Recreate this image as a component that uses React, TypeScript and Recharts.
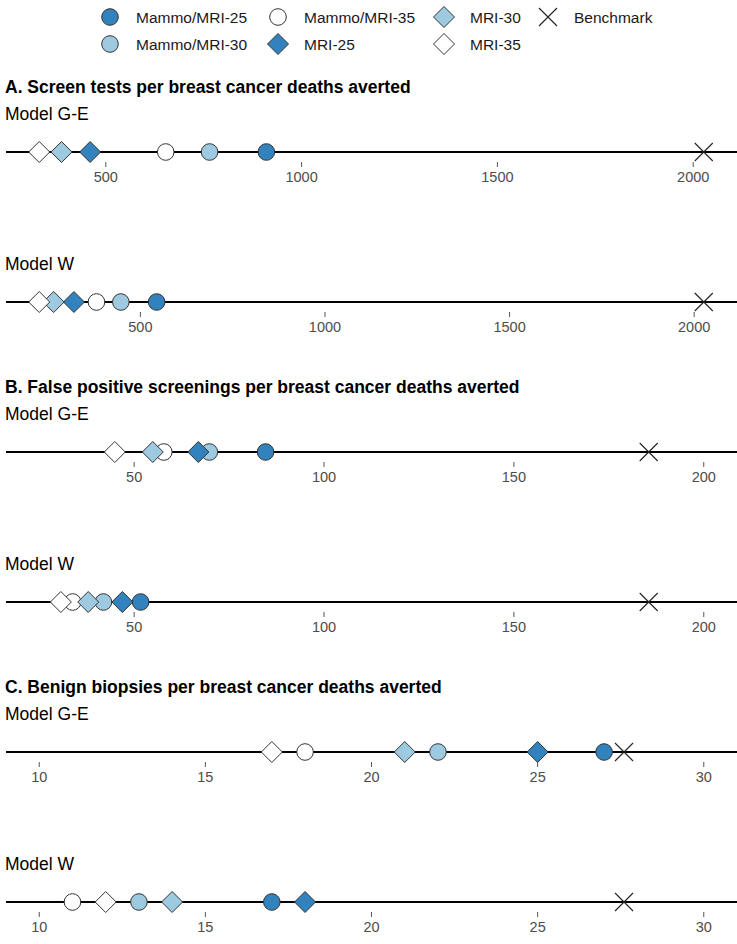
import { ReferenceLine, Scatter, ScatterChart, XAxis, YAxis } from "recharts"

const seriesNames = ["Mammo/MRI-25", "Mammo/MRI-30", "Mammo/MRI-35", "MRI-25", "MRI-30", "MRI-35", "Benchmark"]

// values in the order of seriesNames
const screenGE = [910, 765, 653, 460, 387, 330, 2027]
const screenW = [544, 447, 381, 320, 265, 226, 2026]
const falsePosGE = [84.6, 69.8, 57.8, 66.9, 54.9, 44.9, 185.5]
const falsePosW = [51.7, 41.9, 33.8, 46.9, 37.9, 30.7, 185.5]
const biopsyGE = [27, 22, 18, 25, 21, 17, 27.6]
const biopsyW = [17, 13, 11, 18, 14, 12, 27.6]

const screenTicks = [500, 1000, 1500, 2000]
const falsePosTicks = [50, 100, 150, 200]
const biopsyTicks = [10, 15, 20, 25, 30]

const falsePosLimits = [25, 200]
const biopsyLimits = [10, 30]

const FONT = "'Liberation Sans', Arial, sans-serif"
const DARK = "#3182bd"
const LIGHT = "#9ecae1"

const fills = [DARK, LIGHT, "#ffffff", DARK, LIGHT, "#ffffff", "none"]
const kinds = ["circle", "circle", "circle", "diamond", "diamond", "diamond", "cross"]

const expand = (lo: number, hi: number): [number, number] => {
  const pad = (hi - lo) * 0.05
  return [lo - pad, hi + pad]
}
const dataDomain = (vals: number[]) => expand(Math.min(...vals), Math.max(...vals))

function Marker({ cx, cy, idx }: { cx: number; cy: number; idx: number }) {
  const kind = kinds[idx]
  if (kind === "circle") {
    return <circle cx={cx} cy={cy} r={8.3} fill={fills[idx]} stroke="#333" strokeWidth={1} />
  }
  if (kind === "diamond") {
    const d = 10.5
    return (
      <path
        d={`M${cx},${cy - d}L${cx + d},${cy}L${cx},${cy + d}L${cx - d},${cy}Z`}
        fill={fills[idx]}
        stroke="#333"
        strokeWidth={1}
      />
    )
  }
  const s = 9
  return (
    <path
      d={`M${cx - s},${cy - s}L${cx + s},${cy + s}M${cx - s},${cy + s}L${cx + s},${cy - s}`}
      stroke="#222"
      strokeWidth={1.1}
      fill="none"
    />
  )
}

function Strip({ values, domain, ticks, lineY }: { values: number[]; domain: [number, number]; ticks: number[]; lineY: number }) {
  return (
    <div style={{ position: "absolute", left: 0, top: lineY - 22 }}>
      <ScatterChart width={737} height={62} margin={{ top: 12, right: 0, bottom: 0, left: 6 }}>
        <XAxis
          type="number"
          dataKey="x"
          domain={domain}
          allowDataOverflow
          ticks={ticks}
          interval={0}
          axisLine={false}
          tickLine={{ stroke: "#555", strokeWidth: 1 }}
          tickSize={5}
          tickMargin={5}
          tick={{ fill: "#4d4d4d", fontSize: 14.5, fontFamily: FONT }}
          height={30}
        />
        <YAxis type="number" dataKey="y" domain={[-1, 1]} hide width={0} />
        <ReferenceLine y={0} stroke="#000" strokeWidth={1.8} />
        {seriesNames.map((name, i) => (
          <Scatter
            key={name}
            name={name}
            data={[{ x: values[i], y: 0 }]}
            isAnimationActive={false}
            shape={(p: any) => <Marker cx={p.cx} cy={p.cy} idx={i} />}
          />
        ))}
      </ScatterChart>
    </div>
  )
}

const panels = [
  {
    title: "A. Screen tests per breast cancer deaths averted",
    rows: [
      { label: "Model G-E", values: screenGE, domain: dataDomain(screenGE), ticks: screenTicks },
      { label: "Model W", values: screenW, domain: dataDomain(screenW), ticks: screenTicks },
    ],
  },
  {
    title: "B. False positive screenings per breast cancer deaths averted",
    rows: [
      { label: "Model G-E", values: falsePosGE, domain: expand(falsePosLimits[0], falsePosLimits[1]), ticks: falsePosTicks },
      { label: "Model W", values: falsePosW, domain: expand(falsePosLimits[0], falsePosLimits[1]), ticks: falsePosTicks },
    ],
  },
  {
    title: "C. Benign biopsies per breast cancer deaths averted",
    rows: [
      { label: "Model G-E", values: biopsyGE, domain: expand(biopsyLimits[0], biopsyLimits[1]), ticks: biopsyTicks },
      { label: "Model W", values: biopsyW, domain: expand(biopsyLimits[0], biopsyLimits[1]), ticks: biopsyTicks },
    ],
  },
]

// legend is laid out column by column, two rows
const legendCols = [110, 278, 444, 548]
const legendRows = [17, 44]

export default function App() {
  return (
    <div style={{ position: "relative", width: 737, height: 944, fontFamily: FONT, background: "#fff" }}>
      <style>{`body{margin:0}`}</style>
      <svg width={737} height={944} style={{ position: "absolute", left: 0, top: 0 }}>
        {seriesNames.map((name, i) => {
          const cx = legendCols[Math.floor(i / 2)]
          const cy = legendRows[i % 2]
          return (
            <g key={name}>
              <Marker cx={cx} cy={cy} idx={i} />
              <text x={cx + 26} y={cy} dominantBaseline="central" fontSize={15.5} fill="#1a1a1a" fontFamily={FONT}>
                {name}
              </text>
            </g>
          )
        })}
        {panels.map((panel, pi) => (
          <g key={panel.title}>
            <text x={5} y={93 + pi * 300} fontSize={17.5} fontWeight="bold" fill="#000" fontFamily={FONT}>
              {panel.title}
            </text>
            {panel.rows.map((row, ri) => (
              <text key={row.label} x={5} y={151.7 + pi * 300 + ri * 150 - 32} fontSize={17.5} fill="#000" fontFamily={FONT}>
                {row.label}
              </text>
            ))}
          </g>
        ))}
      </svg>
      {panels.map((panel, pi) =>
        panel.rows.map((row, ri) => (
          <Strip
            key={`${pi}-${ri}`}
            values={row.values}
            domain={row.domain}
            ticks={row.ticks}
            lineY={151.7 + pi * 300 + ri * 150}
          />
        ))
      )}
    </div>
  )
}
